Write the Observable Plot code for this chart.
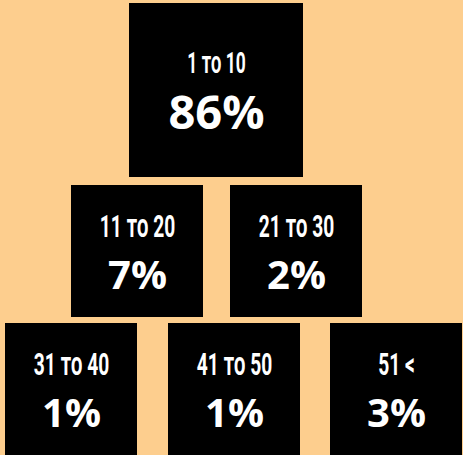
<!DOCTYPE html>
<html>
<head>
<meta charset="utf-8">
<script src="https://cdn.jsdelivr.net/npm/d3@7"></script>
<script src="https://cdn.jsdelivr.net/npm/@observablehq/plot@0.6"></script>
<style>
  html, body { margin: 0; padding: 0; background: #FDCE8E; overflow: hidden; }
  #chart svg { display: block; }
</style>
</head>
<body>
<div id="chart"></div>
<script>
// ---- data ----
const groups = ["1 to 10", "11 to 20", "21 to 30", "31 to 40", "41 to 50", "51 <"];
const shares = [86, 7, 2, 1, 1, 3];
const tiers  = [0, 1, 1, 2, 2, 2];

// ---- layout (pyramid) ----
const W = 463, H = 455;
const tierTop  = [3, 185, 323];
const tierSize = [174, 132, 132];
const tierCenters = [[216], [137, 296], [71, 234, 396]];
const labelSize = [29, 32, 32];
const pctSize = [47, 40, 40];
const labelOff = [-18, -15, -15];
const pctOff = [38, 37, 37];

const rows = groups.map((g, i) => {
  const t = tiers[i];
  const idx = tiers.slice(0, i).filter(v => v === t).length;
  const cx = tierCenters[t][idx];
  const s = tierSize[t];
  const cy = tierTop[t] + s / 2;
  return {group: g, share: shares[i], tier: t,
          x1: cx - s / 2, x2: cx + s / 2, y1: tierTop[t], y2: tierTop[t] + s,
          cx, cy};
});

const marks = [];
marks.push(Plot.rect(rows, {x1: "x1", x2: "x2", y1: "y1", y2: "y2", fill: "#000"}));
for (let t = 0; t < 3; t++) {
  const sub = rows.filter(d => d.tier === t);
  marks.push(Plot.text(sub, {
    x: "cx", y: d => d.cy + labelOff[t], text: "group",
    fill: "white", fontSize: labelSize[t], fontWeight: 700,
    fontFamily: "Roboto, 'DejaVu Sans'", fontVariant: "small-caps",
    lineAnchor: "bottom", textAnchor: "middle", className: "lbl"
  }));
  marks.push(Plot.text(sub, {
    x: "cx", y: d => d.cy + pctOff[t], text: d => d.share + "%",
    fill: "white", fontSize: pctSize[t], fontWeight: 700,
    fontFamily: "'Open Sans', sans-serif",
    lineAnchor: "bottom", textAnchor: "middle"
  }));
}

const chart = Plot.plot({
  width: W, height: H,
  margin: 0,
  x: {domain: [0, W], axis: null},
  y: {domain: [0, H], axis: null, reverse: true},
  style: {background: "transparent"},
  marks
});
document.getElementById("chart").appendChild(chart);

// condense the range labels horizontally
const squeeze = 0.6;
d3.select(chart).selectAll("g.lbl text").each(function() {
  const el = d3.select(this);
  let tr = el.attr("transform");
  if (!tr) {
    const x = +el.attr("x") || 0, y = +el.attr("y") || 0;
    el.attr("x", null).attr("y", null);
    tr = `translate(${x},${y})`;
  }
  el.attr("transform", `${tr} scale(${squeeze},1)`);
});
</script>
</body>
</html>
